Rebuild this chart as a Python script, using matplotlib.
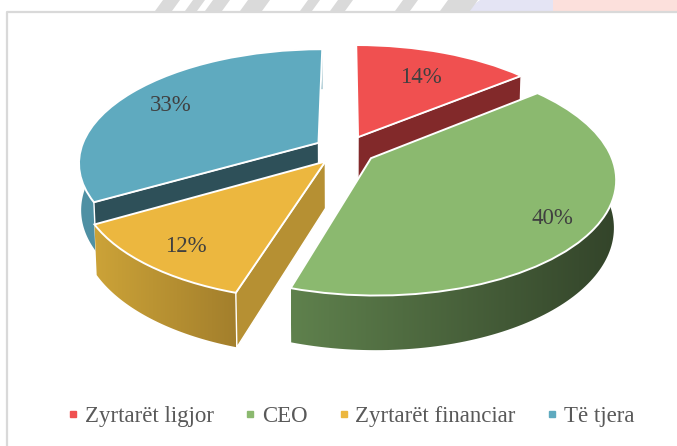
import numpy as np
import matplotlib
matplotlib.use('Agg')
import matplotlib.pyplot as plt
from matplotlib.colors import to_rgb
from matplotlib.patches import Polygon
from matplotlib.transforms import Transform
from matplotlib.lines import Line2D

labels = ['Zyrtarët ligjor', 'CEO', 'Zyrtarët financiar', 'Të tjera']
values = [14, 40.25, 11.75, 33]

top_colors = ['#F05050', '#8BB96F', '#ECB73F', '#5FAABF']
face_colors = ['#82292A', None, '#B69033', '#2E5059']
arc_left = ['#82292A', '#5F814D', '#CCA338', '#4F90A3']
arc_right = ['#82292A', '#33442A', '#A37F2C', '#4F90A3']
label_r = [0.71, 0.83, 0.81, 0.78]

# projection of the tilted disc, in pixels of the 677x446 figure
CX, CY = 345.0, 150.0
RX, RY = 238.0, 111.4
TILT = 0.1665
DEPTH = 46.5
DEPTH_W = 0.008
EXPLODE = 0.13


def project(u, v, z=0.0):
    w = 1 + TILT * np.asarray(v) + DEPTH_W * z
    return CX + RX * np.asarray(u) / w, CY + (-RY * np.asarray(v) + DEPTH * z) / w


class DiscTransform(Transform):
    input_dims = 2
    output_dims = 2
    is_affine = False

    def transform_non_affine(self, xy):
        xy = np.asarray(xy)
        x, y = project(xy[:, 0], xy[:, 1])
        return np.column_stack([x, y])


fig = plt.figure(figsize=(6.77, 4.46), dpi=100)
ax = fig.add_axes([0, 0, 1, 1])

fracs = np.array(values) / sum(values)
edges = np.concatenate([[0], np.cumsum(fracs)]) * 2 * np.pi
mids = (edges[:-1] + edges[1:]) / 2

wedges, _ = ax.pie(values, explode=[EXPLODE] * 4, colors=top_colors,
                   startangle=90, counterclock=False, radius=1,
                   wedgeprops=dict(edgecolor='white', linewidth=1.4))
disc = DiscTransform() + ax.transData
for w in wedges:
    w.set_transform(disc)

# faded picture behind the chart, top strip
ax.fill([480, 553, 553, 465], [0, 0, 11, 11], color='#E4E4F4', lw=0, zorder=0)
ax.fill([553, 677, 677, 553], [0, 0, 11, 11], color='#FCE0DC', lw=0, zorder=0)
for x0, x1 in [(155, 172), (185, 197), (205, 222), (240, 262), (300, 312), (330, 345), (395, 410), (440, 470)]:
    ax.fill([x0 + 8, x1 + 8, x1, x0], [0, 0, 11, 11], color='#DADADA', lw=0, zorder=0)

# frame
ax.plot([6.5, 6.5, 677], [446, 11.5, 11.5], color='#D9D9D9', lw=1.6, zorder=1)


def draw_arc(i, z):
    # outer wall: horizontal gradient clipped to the wall outline
    t = np.linspace(edges[i], edges[i + 1], 120)
    u = np.sin(t) + EXPLODE * np.sin(mids[i])
    v = np.cos(t) + EXPLODE * np.cos(mids[i])
    xt, yt = project(u, v)
    xb, yb = project(u, v, 1.0)
    left = np.array(to_rgb(arc_left[i]))
    right = np.array(to_rgb(arc_right[i]))
    f = np.linspace(0, 1, 256)[:, None]
    grad = (left + (right - left) * f)[None, :, :]
    im = ax.imshow(grad, extent=[xt.min(), xt.max(), 446, 0], aspect='auto', zorder=z,
                   interpolation='bilinear')
    outline = Polygon(np.column_stack([np.r_[xt, xb[::-1]], np.r_[yt, yb[::-1]]]),
                      transform=ax.transData, fill=False, lw=0)
    ax.add_patch(outline)
    im.set_clip_path(outline)


def draw_face(i, t, z):
    ou, ov = EXPLODE * np.sin(mids[i]), EXPLODE * np.cos(mids[i])
    u = np.array([ou, ou + np.sin(t)])
    v = np.array([ov, ov + np.cos(t)])
    xt, yt = project(u, v)
    xb, yb = project(u, v, 1.0)
    ax.fill([xt[0], xt[1], xb[1], xb[0]], [yt[0], yt[1], yb[1], yb[0]],
            facecolor=face_colors[i], edgecolor='white', lw=1.0, zorder=z)


# back to front: others, legal, financial, CEO
face_angle = {0: edges[1], 2: edges[2], 3: edges[3]}
for order, i in enumerate([3, 0, 2, 1]):
    z = 3 + order * 3
    if i != 0:
        draw_arc(i, z)
    if i in face_angle:
        draw_face(i, face_angle[i], z + 1)
    wedges[i].set_zorder(z + 2)

for i, v in enumerate(values):
    u0 = EXPLODE * np.sin(mids[i]) + label_r[i] * np.sin(mids[i])
    v0 = EXPLODE * np.cos(mids[i]) + label_r[i] * np.cos(mids[i])
    x, y = project(u0, v0)
    ax.text(x, y + 3, f'{v:.0f}%', ha='center', va='center', fontsize=16.5,
            family='Liberation Serif', color='#404040', zorder=20)

ax.set_aspect('auto')
ax.set_xlim(0, 677)
ax.set_ylim(446, 0)
ax.axis('off')

handles = [Line2D([], [], ls='', marker='s', ms=5, color=c) for c in top_colors]
ax.legend(handles, labels, loc='center', bbox_to_anchor=(348 / 677, 1 - 416 / 446), ncol=4,
          frameon=False, prop=dict(family='Liberation Serif', size=16.5), labelcolor='#595959',
          handletextpad=0.0, columnspacing=1.1, handlelength=1.0, borderpad=0)

fig.savefig('out.png', dpi=100)
